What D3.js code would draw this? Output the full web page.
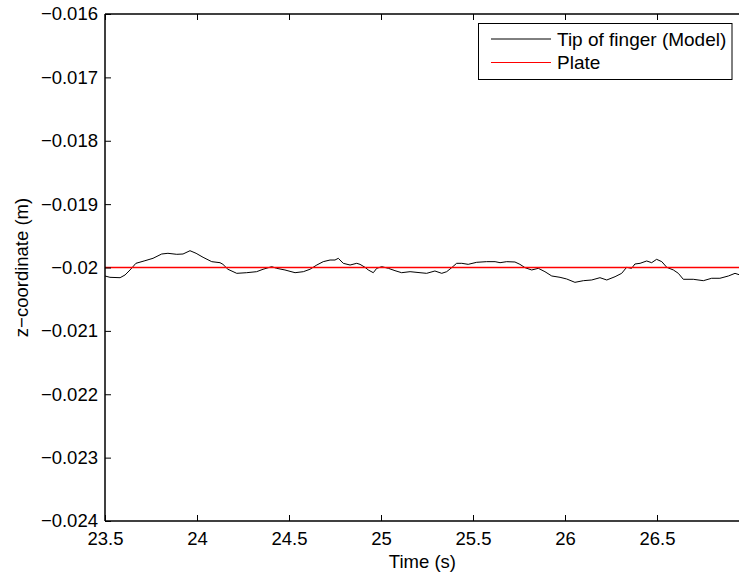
<!DOCTYPE html>
<html>
<head>
<meta charset="utf-8">
<script src="https://cdn.jsdelivr.net/npm/d3@7"></script>
<style>
  body { margin: 0; background: #fff; }
  svg { display: block; font-family: "Liberation Sans", Arial, sans-serif; }
  .tick-label { font-size: 18.5px; fill: #000; }
  .legend-label { font-size: 19px; fill: #000; }
</style>
</head>
<body>
<div id="vis"></div>
<script>
// chart values
const TIME = [23.500, 23.527, 23.582, 23.609, 23.636, 23.668, 23.717, 23.761, 23.808, 23.842,
  23.890, 23.924, 23.962, 23.995, 24.033, 24.080, 24.125, 24.141, 24.168, 24.216,
  24.270, 24.324, 24.359, 24.406, 24.433, 24.478, 24.533, 24.578, 24.614, 24.651,
  24.686, 24.723, 24.750, 24.768, 24.795, 24.832, 24.868, 24.886, 24.913, 24.931,
  24.958, 24.977, 25.004, 25.040, 25.076, 25.112, 25.158, 25.212, 25.248, 25.293,
  25.330, 25.357, 25.384, 25.411, 25.439, 25.474, 25.520, 25.574, 25.620, 25.647,
  25.683, 25.728, 25.755, 25.783, 25.819, 25.855, 25.891, 25.928, 25.973, 26.009,
  26.054, 26.100, 26.145, 26.190, 26.227, 26.272, 26.308, 26.335, 26.362, 26.380,
  26.408, 26.444, 26.471, 26.498, 26.526, 26.553, 26.589, 26.616, 26.643, 26.697,
  26.752, 26.797, 26.842, 26.888, 26.924, 26.951];
const Z_TIP = [-0.020134, -0.020155, -0.020161, -0.020118, -0.020039, -0.019934, -0.019893, -0.019855, -0.019787, -0.019776,
  -0.019792, -0.019787, -0.019735, -0.019776, -0.019839, -0.019908, -0.019924, -0.019950, -0.020028, -0.020092,
  -0.020082, -0.020066, -0.020028, -0.019987, -0.020013, -0.020039, -0.020082, -0.020066, -0.020028, -0.019961,
  -0.019908, -0.019882, -0.019882, -0.019855, -0.019934, -0.019961, -0.019934, -0.019950, -0.019997, -0.020039,
  -0.020082, -0.020013, -0.019987, -0.020013, -0.020050, -0.020082, -0.020066, -0.020082, -0.020092, -0.020055,
  -0.020092, -0.020066, -0.020003, -0.019934, -0.019934, -0.019950, -0.019918, -0.019908, -0.019908, -0.019924,
  -0.019908, -0.019913, -0.019950, -0.020003, -0.020039, -0.020013, -0.020066, -0.020134, -0.020155, -0.020181,
  -0.020234, -0.020208, -0.020197, -0.020161, -0.020197, -0.020145, -0.020092, -0.019997, -0.020013, -0.019945,
  -0.019934, -0.019897, -0.019924, -0.019871, -0.019908, -0.019997, -0.020039, -0.020092, -0.020186, -0.020186,
  -0.020208, -0.020170, -0.020170, -0.020134, -0.020092, -0.020118];
const PLATE_Z = -0.02;
const X_TICKS = [23.5, 24, 24.5, 25, 25.5, 26, 26.5];
const Y_TICKS = [-0.016, -0.017, -0.018, -0.019, -0.02, -0.021, -0.022, -0.023, -0.024];
const SERIES = ["Tip of finger (Model)", "Plate"];
const COLORS = ["#000000", "#ff0000"];

const WIDTH = 739, HEIGHT = 578;
const PLOT = {left: 105, right: 739.8, top: 14, bottom: 521};

const SVG = d3.select("#vis").append("svg")
  .attr("width", WIDTH).attr("height", HEIGHT);

const X_SCALE = d3.scaleLinear().domain([23.5, 26.95]).range([PLOT.left, PLOT.right]);
const Y_SCALE = d3.scaleLinear().domain([-0.024, -0.016]).range([PLOT.bottom, PLOT.top]);

const fmt = v => String(v).replace("-", "\u2212");

// clip for the data path
SVG.append("clipPath").attr("id", "clip")
  .append("rect")
  .attr("x", PLOT.left).attr("y", PLOT.top)
  .attr("width", PLOT.right - PLOT.left).attr("height", PLOT.bottom - PLOT.top);

// finger tip line
const tipData = TIME.map((t, i) => ({t: t, z: Z_TIP[i]}));
SVG.append("path")
  .datum(tipData)
  .attr("clip-path", "url(#clip)")
  .attr("fill", "none")
  .attr("stroke", COLORS[0])
  .attr("stroke-width", 1)
  .attr("d", d3.line().x(d => X_SCALE(d.t)).y(d => Y_SCALE(d.z)));

// plate line (drawn on top)
SVG.append("path")
  .datum([23.5, 26.95])
  .attr("fill", "none")
  .attr("stroke", COLORS[1])
  .attr("stroke-width", 1.6)
  .attr("d", d3.line().x(d => X_SCALE(d)).y(() => Y_SCALE(PLATE_Z)));

// axes (ticks inward)
const xBottom = SVG.append("g")
  .attr("transform", "translate(0," + PLOT.bottom + ")")
  .call(d3.axisBottom(X_SCALE).tickValues(X_TICKS).tickSize(-6).tickPadding(11).tickFormat(fmt));
const xTop = SVG.append("g")
  .attr("transform", "translate(0," + PLOT.top + ")")
  .call(d3.axisTop(X_SCALE).tickValues(X_TICKS).tickSize(-6).tickFormat(""));
const yLeft = SVG.append("g")
  .attr("transform", "translate(" + PLOT.left + ",0)")
  .call(d3.axisLeft(Y_SCALE).tickValues(Y_TICKS).tickSize(-6).tickPadding(7).tickFormat(fmt));

[xBottom, xTop, yLeft].forEach(g => {
  g.select(".domain").attr("stroke", "#000").attr("stroke-width", 1.5);
  g.selectAll(".tick line").attr("stroke", "#000").attr("stroke-width", 1);
  g.selectAll(".tick text").attr("class", "tick-label").attr("font-size", null).attr("font-family", null);
});
// keep a clean frame without end caps
xBottom.select(".domain").attr("d", "M" + PLOT.left + ",0H" + PLOT.right);
xTop.select(".domain").attr("d", "M" + PLOT.left + ",0H" + PLOT.right);
yLeft.select(".domain").attr("d", "M0," + PLOT.top + "V" + PLOT.bottom);

// axis titles
SVG.append("text")
  .attr("x", (PLOT.left + PLOT.right) / 2).attr("y", 568)
  .attr("text-anchor", "middle")
  .attr("class", "tick-label")
  .text("Time (s)");

SVG.append("text")
  .attr("transform", "translate(22," + (PLOT.top + PLOT.bottom) / 2 + ") rotate(-90)")
  .attr("text-anchor", "middle")
  .attr("dy", "0.35em")
  .attr("class", "tick-label")
  .text("z\u2212coordinate (m)");

// legend
const LEGEND = SVG.append("g");
LEGEND.append("rect")
  .attr("x", 478.5).attr("y", 23.5).attr("width", 253.5).attr("height", 56)
  .attr("fill", "#fff").attr("stroke", "#000").attr("stroke-width", 1);

SERIES.forEach((name, i) => {
  const y = 39 + i * 23.5;
  LEGEND.append("line")
    .attr("x1", 491).attr("x2", 551)
    .attr("y1", y).attr("y2", y)
    .attr("stroke", COLORS[i]).attr("stroke-width", 1);
  LEGEND.append("text")
    .attr("x", 557).attr("y", y)
    .attr("dy", "0.35em")
    .attr("class", "legend-label")
    .text(name);
});
</script>
</body>
</html>
